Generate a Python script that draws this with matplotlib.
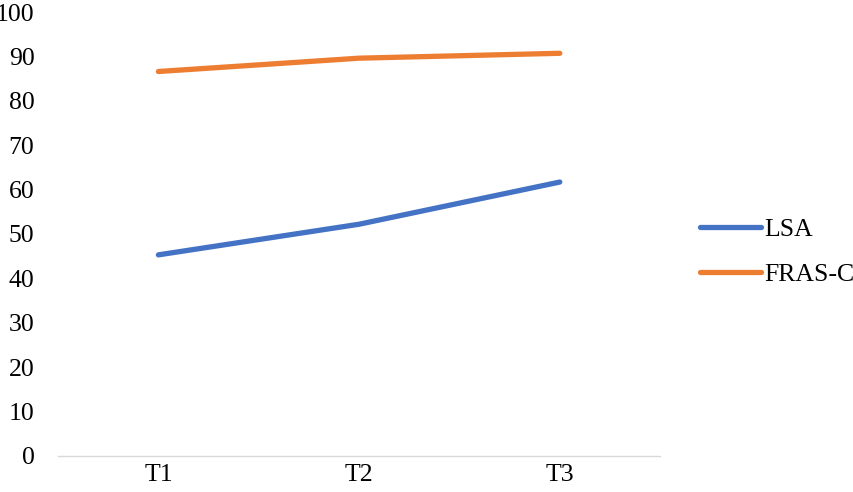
import numpy as np
import matplotlib.pyplot as plt

plt.rcParams['font.family'] = ['Liberation Serif', 'DejaVu Serif']

categorias = ['T1', 'T2', 'T3']
lsa = [45.3, 52.2, 61.7]
fras_c = [86.6, 89.6, 90.7]

fig = plt.figure(figsize=(8.54, 4.92), dpi=100)
ax = fig.add_axes([0.068, 0.0732, 0.705, 0.9024])

x = np.arange(len(categorias))
l1, = ax.plot(x, lsa, color='#4472C4', lw=3.8, solid_capstyle='round', label='LSA')
l2, = ax.plot(x, fras_c, color='#ED7D31', lw=3.8, solid_capstyle='round', label='FRAS-C')

ax.set_xlim(-0.5, 2.5)
ax.set_ylim(0, 100)
ax.set_yticks(range(0, 101, 10))
ax.set_xticks(x)
ax.set_xticklabels(categorias)
ax.tick_params(length=0, labelsize=18.5)
ax.tick_params(axis='y', pad=17)
ax.tick_params(axis='x', pad=6)
for s in ['top', 'right', 'left']:
    ax.spines[s].set_visible(False)
ax.spines['bottom'].set_color('#d9d9d9')
ax.spines['bottom'].set_linewidth(1)

fig.legend(handles=[l1, l2], loc='center left', bbox_to_anchor=(0.793, 0.488),
           frameon=False, fontsize=18.5, handlelength=2.35, labelspacing=0.86,
           handletextpad=0.12)

plt.savefig('out.png', dpi=100)
